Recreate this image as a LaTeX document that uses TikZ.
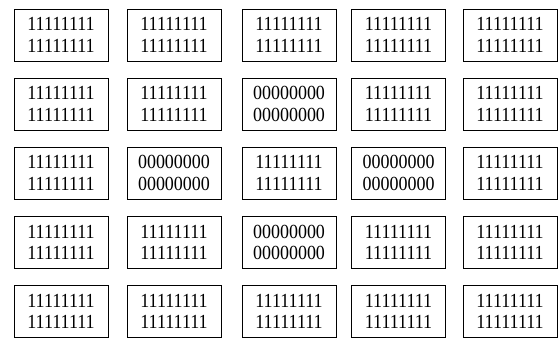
\documentclass[tikz,border=0pt]{standalone}
\usepackage{fontspec}
\setmainfont[FakeStretch=0.9]{Liberation Serif}
\newcommand{\onesrow}{11111111\\11111111}
\newcommand{\zerosrow}{00000000\\00000000}
\begin{document}
\begin{tikzpicture}[
  x=1pt, y=-1pt,
  cell/.style={draw, line width=0.9pt, minimum width=94pt, minimum height=52pt,
    inner sep=0, align=center, font=\fontsize{20}{21.7}\selectfont}
]
\useasboundingbox (0,0) rectangle (558,338);
% row 1
\node[cell] (b11) at (61,   35) {\onesrow};
\node[cell] (b12) at (174,  35) {\onesrow};
\node[cell] (b13) at (289,  35) {\onesrow};
\node[cell] (b14) at (398.5,35) {\onesrow};
\node[cell] (b15) at (510,  35) {\onesrow};
% row 2
\node[cell] (b21) at (61,   104) {\onesrow};
\node[cell] (b22) at (174,  104) {\onesrow};
\node[cell] (b23) at (289,  104) {\zerosrow};
\node[cell] (b24) at (398.5,104) {\onesrow};
\node[cell] (b25) at (510,  104) {\onesrow};
% row 3
\node[cell] (b31) at (61,   173) {\onesrow};
\node[cell] (b32) at (174,  173) {\zerosrow};
\node[cell] (b33) at (289,  173) {\onesrow};
\node[cell] (b34) at (398.5,173) {\zerosrow};
\node[cell] (b35) at (510,  173) {\onesrow};
% row 4
\node[cell] (b41) at (61,   242.5) {\onesrow};
\node[cell] (b42) at (174,  242.5) {\onesrow};
\node[cell] (b43) at (289,  242.5) {\zerosrow};
\node[cell] (b44) at (398.5,242.5) {\onesrow};
\node[cell] (b45) at (510,  242.5) {\onesrow};
% row 5
\node[cell] (b51) at (61,   311.5) {\onesrow};
\node[cell] (b52) at (174,  311.5) {\onesrow};
\node[cell] (b53) at (289,  311.5) {\onesrow};
\node[cell] (b54) at (398.5,311.5) {\onesrow};
\node[cell] (b55) at (510,  311.5) {\onesrow};
\end{tikzpicture}
\end{document}
